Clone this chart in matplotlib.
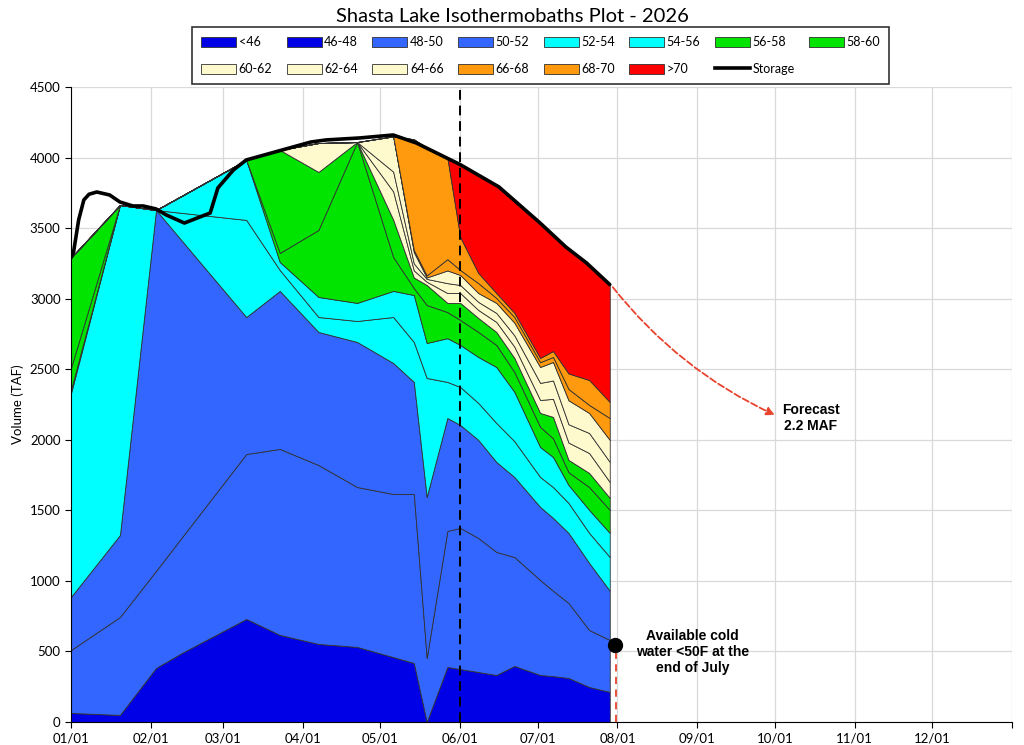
import numpy as np
import pandas as pd
import matplotlib
matplotlib.use('Agg')
import matplotlib.pyplot as plt
from matplotlib.patches import Patch
from matplotlib.lines import Line2D

plt.rcParams['font.family'] = ['Lato', 'DejaVu Sans']

year = 2026

# profile dates (mm-dd) and the top of each temperature band (TAF, cumulative)
profile_dates = ['01-01', '01-20', '02-03', '02-13', '03-10', '03-23', '04-07', '04-22',
                 '05-06', '05-14', '05-19', '05-27', '06-01', '06-08', '06-15', '06-22',
                 '07-02', '07-07', '07-13', '07-21', '07-29']

top_lt46 = [0] * 21
top_46_48 = [64, 50, 383, 489, 730, 617, 553, 532, 460, 418, 0, 390, 375, 354, 333, 397,
             333, 325, 312, 248, 213]
top_48_50 = [510, 744, 1071, 1308, 1899, 1935, 1821, 1665, 1616, 1616, 454, 1354, 1375, 1304,
             1205, 1169, 1006, 930, 843, 652, 581]
top_50_52 = [886, 1325, 3628, 3411, 2870, 3055, 2764, 2693, 2544, 2410, 1595, 2154, 2105, 1999,
             1843, 1736, 1524, 1446, 1340, 1127, 930]
top_52_54 = [2330, 3664, 3628, 3608, 3558, 3203, 2870, 2842, 2870, 2693, 2438, 2410, 2374, 2261,
             2119, 1990, 1736, 1665, 1552, 1340, 1169]
top_54_56 = [2353, 3664, 3628, 3729, 3983, 3260, 3012, 2970, 3055, 3026, 2686, 2720, 2672, 2587,
             2516, 2340, 1949, 1878, 1680, 1503, 1340]
top_56_58 = [2509, 3664, 3628, 3729, 3983, 3324, 3487, 4110, 3295, 3075, 2955, 2905, 2849, 2764,
             2672, 2480, 2091, 2010, 1770, 1665, 1503]
top_58_60 = [3290, 3664, 3628, 3729, 3983, 4054, 3898, 4110, 3560, 3150, 3097, 2970, 2970, 2863,
             2764, 2580, 2190, 2162, 1857, 1765, 1588]
top_60_62 = [3290, 3664, 3628, 3729, 3983, 4054, 4103, 4110, 3760, 3200, 3120, 3040, 3040, 2920,
             2835, 2660, 2282, 2290, 1980, 1906, 1701]
top_62_64 = [3290, 3664, 3628, 3729, 3983, 4054, 4103, 4110, 3900, 3250, 3140, 3110, 3097, 2977,
             2899, 2740, 2403, 2420, 2110, 2048, 1843]
top_64_66 = [3290, 3664, 3628, 3729, 3983, 4054, 4103, 4110, 4150, 3330, 3150, 3200, 3168, 3040,
             2970, 2830, 2516, 2551, 2280, 2190, 1999]
top_66_68 = [3290, 3664, 3628, 3729, 3983, 4054, 4103, 4110, 4150, 3345, 3165, 3280, 3203, 3110,
             3005, 2870, 2550, 2587, 2360, 2247, 2154]
top_68_70 = [3290, 3664, 3628, 3729, 3983, 4054, 4103, 4110, 4150, 4130, 4068, 4000, 3437, 3182,
             3040, 2900, 2580, 2629, 2470, 2424, 2268]
top_gt70 = [3290, 3664, 3628, 3729, 3983, 4054, 4103, 4110, 4150, 4130, 4068, 4000, 3950, 3870,
            3800, 3690, 3536, 3450, 3352, 3236, 3100]

band_labels = ['<46', '46-48', '48-50', '50-52', '52-54', '54-56', '56-58', '58-60',
               '60-62', '62-64', '64-66', '66-68', '68-70', '>70']
band_colors = ['#0000E6', '#0000E6', '#3366FF', '#3366FF', '#00FFFF', '#00FFFF', '#00E400', '#00E400',
               '#FFFACD', '#FFFACD', '#FFFACD', '#FF9A0F', '#FF9A0F', '#FF0000']

# daily storage trace
storage_dates = ['01-01', '01-02', '01-04', '01-06', '01-08', '01-11', '01-16', '01-20', '01-25',
                 '01-29', '02-03', '02-07', '02-14', '02-20', '02-24', '02-27', '03-05', '03-10',
                 '03-24', '04-04', '04-10', '04-23', '05-06', '05-15', '06-01', '06-16', '07-02',
                 '07-12', '07-20', '07-29']
storage = [3290, 3330, 3560, 3700, 3740, 3756, 3735, 3685, 3657, 3657, 3636, 3593, 3536, 3579,
           3607, 3785, 3912, 3983, 4054, 4110, 4125, 4139, 4160, 4103, 3950, 3792, 3536, 3366,
           3253, 3100]

month_labels = ['01/01', '02/01', '03/01', '04/01', '05/01', '06/01', '07/01', '08/01',
                '09/01', '10/01', '11/01', '12/01']


def doy(dates):
    d = pd.to_datetime([f'{year}-{s}' for s in dates])
    return np.asarray((d - pd.Timestamp(f'{year}-01-01')).days)


x = doy(profile_dates)
xs = doy(storage_dates)
month_days = doy([f'{m:02d}-01' for m in range(1, 13)])

tops = [top_lt46, top_46_48, top_48_50, top_50_52, top_52_54, top_54_56, top_56_58, top_58_60,
        top_60_62, top_62_64, top_64_66, top_66_68, top_68_70, top_gt70]

fig = plt.figure(figsize=(10.24, 7.45), dpi=100)
ax = fig.add_axes([0.0693, 0.0309, 0.9189, 0.8523])

lower = np.zeros(len(x))
for top, c in zip(tops, band_colors):
    upper = np.asarray(top, dtype=float)
    ax.fill_between(x, lower, upper, facecolor=c, edgecolor='#303030', linewidth=0.6, zorder=2)
    lower = upper

ax.plot(xs, storage, color='black', lw=2.6, zorder=5, solid_capstyle='round')

# June 1 marker
ax.axvline(151, color='black', ls=(0, (5, 3)), lw=1.4, zorder=4)

# forecast arrow
red = '#E8432E'
ax.annotate('', xy=(273, 2176), xytext=(209.5, 3097),
            arrowprops=dict(arrowstyle='-|>', color=red, linestyle='--', lw=1.3,
                            connectionstyle='arc3,rad=0.12', shrinkA=2, shrinkB=0,
                            mutation_scale=12), zorder=6)
ax.text(287, 2154, 'Forecast\n2.2 MAF', ha='center', va='center', fontsize=10,
        fontweight='bold', family=['Liberation Sans', 'DejaVu Sans'])

# cold water pool at end of July
ax.plot([211.6, 211.6], [0, 500], color=red, ls=(0, (4, 3)), lw=1.3, zorder=5)
ax.plot(211, 546, 'o', color='black', ms=10, zorder=7, clip_on=False)
ax.text(241, 496, 'Available cold\nwater <50F at the\nend of July', ha='center', va='center',
        fontsize=10, fontweight='bold', family=['Liberation Sans', 'DejaVu Sans'], linespacing=1.15)

ax.set_xlim(0, 365)
ax.set_ylim(0, 4500)
ax.set_xticks(list(month_days) + [365])
ax.set_xticklabels(month_labels + [''])
ax.set_yticks(np.arange(0, 4501, 500))
ax.tick_params(labelsize=9.5, length=4, color='black')
ax.set_ylabel('Volume (TAF)', fontsize=9.5)
ax.grid(True, color='#d9d9d9', lw=0.9)
ax.set_axisbelow(True)
for s in ['top', 'right']:
    ax.spines[s].set_visible(False)

handles = [Patch(facecolor=c, edgecolor='#303030', lw=0.6, label=l)
           for l, c in zip(band_labels, band_colors)]
handles.append(Line2D([], [], color='black', lw=2.6, label='Storage'))
# reorder so the column-major legend reads row by row
order = []
for i in range(7):
    order += [i, i + 8]
order.append(7)
handles = [handles[i] for i in order]
leg = fig.legend(handles=handles, loc='upper center', bbox_to_anchor=(0.528, 0.972), ncol=8,
                 frameon=True, fancybox=False, edgecolor='black', fontsize=9,
                 handlelength=2.8, handleheight=0.9, columnspacing=1.15, labelspacing=1.2,
                 borderpad=0.72, handletextpad=0.2)
leg.get_frame().set_linewidth(1.2)

fig.suptitle(f'Shasta Lake Isothermobaths Plot - {year}', x=0.5, y=0.978, va='center',
             fontsize=14.5)

fig.savefig('out.png', dpi=100)
